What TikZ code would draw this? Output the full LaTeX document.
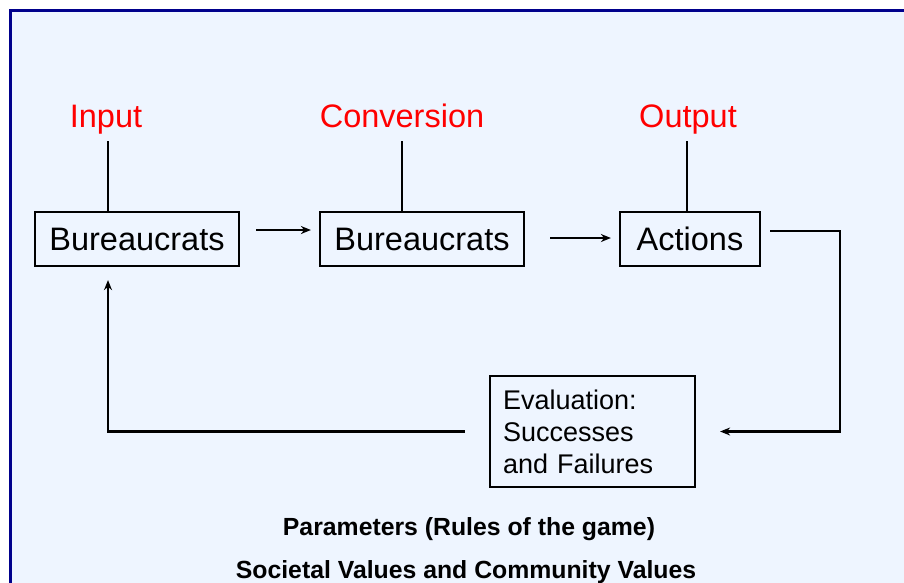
\documentclass[tikz,border=0pt]{standalone}
\usepackage{fontspec}
\setmainfont{Liberation Sans}
\usetikzlibrary{arrows.meta,calc}
\definecolor{panel}{HTML}{EEF5FF}
\definecolor{frameblue}{HTML}{00008C}
\definecolor{labelred}{HTML}{FF0000}
\begin{document}
\begin{tikzpicture}[x=1pt,y=-1pt,
  stagebox/.style={draw=black,line width=2.2pt,fill=panel,minimum height=54pt,inner sep=0pt,
    font=\fontsize{32.5}{36}\selectfont},
  phase/.style={anchor=base,text=labelred,inner sep=0pt,font=\fontsize{32.5}{36}\selectfont},
  arr/.style={line width=2.2pt,-{Stealth[length=10pt,width=8pt]}},
  wire/.style={line width=2.2pt},
  note/.style={anchor=base,inner sep=0pt,font=\fontsize{24.8}{28}\selectfont\bfseries}]
  % canvas and panel
  \useasboundingbox (0,0) rectangle (904,582);
  \fill[white] (0,0) rectangle (904,582);
  \filldraw[fill=panel,draw=frameblue,line width=3pt] (10,10) rectangle (920,600);

  % stages
  \node[stagebox,minimum width=204pt] (b1) at (137,239) {Bureaucrats};
  \node[stagebox,minimum width=204pt] (b2) at (422,239) {Bureaucrats};
  \node[stagebox,minimum width=140pt] (b3) at (690,239) {Actions};
  \node[draw=black,line width=2.2pt,fill=panel,minimum width=205pt,minimum height=111pt,
    text width=179pt,inner xsep=13pt,align=left,
    font=\fontsize{27}{32}\selectfont] (b4) at (592.5,431.5)
    {Evaluation:\\Successes\\and Failures};

  % phase labels
  \node[phase] (lin)  at (106,127) {Input};
  \node[phase] (lcon) at (402,127) {Conversion};
  \node[phase] (lout) at (688,127) {Output};
  \draw[wire] ([xshift=2pt,yshift=-14pt]lin.base) -- ([xshift=2pt]lin.base |- b1.north);
  \draw[wire] ([yshift=-14pt]lcon.base) -- (lcon.base |- b2.north);
  \draw[wire] ([xshift=-1pt,yshift=-14pt]lout.base) -- ([xshift=-1pt]lout.base |- b3.north);

  % flow between stages
  \draw[arr] ([xshift=16pt,yshift=9pt]b1.east) -- ([xshift=-8pt,yshift=9pt]b2.west);
  \draw[arr] ([xshift=25pt,yshift=1pt]b2.east) -- ([xshift=-8pt,yshift=1pt]b3.west);

  % feedback loop
  \coordinate (rc) at (840,431.5);
  \draw[arr] ([xshift=9pt,yshift=8pt]b3.east) -| (rc) -- ([xshift=24pt]b4.east);
  \draw[arr] ([xshift=-24pt]b4.west) -| ([xshift=-29pt,yshift=-13pt]b1.south);

  % parameters
  \node[note] (p1) at (469,535) {Parameters (Rules of the game)};
  \node[note] (p2) at (466,578) {Societal Values and Community Values};
\end{tikzpicture}
\end{document}
